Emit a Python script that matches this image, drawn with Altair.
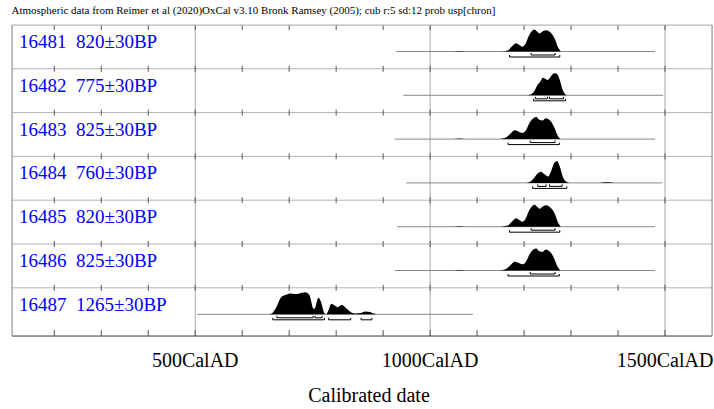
import altair as alt
import pandas as pd

# ---------------- data ----------------
ids = ["16481", "16482", "16483", "16484", "16485", "16486", "16487"]
ages = ["820±30BP", "775±30BP", "825±30BP", "760±30BP", "820±30BP", "825±30BP", "1265±30BP"]
line_start = [928, 943, 925, 949, 930, 925, 504]
line_end = [1479, 1496, 1479, 1494, 1479, 1479, 1091]

dens_years = [
    [1050, 1062, 1075, 1150, 1165, 1175, 1183, 1190, 1196, 1203, 1210, 1218, 1222, 1228, 1233, 1240, 1247, 1253, 1259, 1266, 1272, 1278],
    [1205, 1215, 1222, 1228, 1234, 1240, 1245, 1250, 1255, 1260, 1266, 1271, 1276, 1282, 1290],
    [1050, 1062, 1075, 1145, 1160, 1170, 1180, 1188, 1196, 1204, 1212, 1220, 1226, 1232, 1240, 1246, 1252, 1258, 1265, 1271, 1278],
    [1205, 1213, 1222, 1230, 1236, 1243, 1251, 1258, 1264, 1270, 1276, 1283, 1290, 1296, 1360, 1377, 1392],
    [1050, 1062, 1075, 1150, 1165, 1175, 1183, 1190, 1196, 1203, 1210, 1218, 1222, 1228, 1233, 1240, 1247, 1253, 1259, 1266, 1272, 1278],
    [1050, 1062, 1075, 1145, 1160, 1170, 1180, 1188, 1196, 1204, 1212, 1220, 1226, 1232, 1240, 1246, 1252, 1258, 1265, 1271, 1278],
    [650, 662, 672, 683, 695, 702, 712, 722, 734, 743, 752, 755, 762, 768, 775, 779, 783, 790, 797, 803, 812, 820, 830, 840, 852, 862, 872, 882, 888],
]
dens_probs = [
    [0, 2.5, 0, 0, 5, 25, 38, 30, 22, 35, 70, 95, 100, 90, 82, 92, 97, 92, 80, 55, 20, 0],
    [0, 5, 20, 45, 60, 80, 75, 70, 80, 95, 100, 95, 70, 25, 0],
    [0, 2.5, 0, 0, 6, 22, 40, 35, 28, 40, 75, 95, 100, 88, 85, 95, 90, 78, 50, 18, 0],
    [0, 5, 25, 45, 51, 40, 29, 55, 90, 100, 75, 25, 5, 0, 0, 3, 0],
    [0, 2.5, 0, 0, 5, 25, 38, 30, 22, 35, 70, 95, 100, 90, 82, 92, 97, 92, 80, 55, 20, 0],
    [0, 2.5, 0, 0, 6, 22, 40, 35, 28, 40, 75, 95, 100, 88, 85, 95, 90, 78, 50, 18, 0],
    [0, 3, 30, 78, 90, 95, 92, 95, 100, 88, 25, 28, 75, 55, 5, 0, 15, 48, 40, 32, 42, 30, 12, 4, 6, 13, 10, 2, 0],
]
ranges68 = [
    [(1215, 1266)],
    [(1224, 1250), (1254, 1284)],
    [(1213, 1266)],
    [(1229, 1247), (1254, 1281)],
    [(1215, 1266)],
    [(1213, 1266)],
    [(674, 751), (755, 770)],
]
ranges95 = [
    [(1169, 1276)],
    [(1220, 1288)],
    [(1166, 1275)],
    [(1218, 1291)],
    [(1169, 1276)],
    [(1166, 1275)],
    [(665, 775), (784, 831), (853, 876)],
]
major_years = [500, 1000, 1500]
tick_years = list(range(200, 1600, 100))
x_domain = [110, 1600]
title_text = "Atmospheric data from Reimer et al (2020)OxCal v3.10 Bronk Ramsey (2005); cub r:5 sd:12 prob usp[chron]"
x_title = "Calibrated date"

# ---------------- layout (pixel units of the y scale) ----------------
W, H = 700, 311
ROW_H = 43.8
row_tops = [i * ROW_H for i in range(7)]
boundaries = row_tops + [H]
BASE_OFF = 26.5
PEAK = 22.0

dens_rows, rule_rows, br_rows, end_rows, lab_rows = [], [], [], [], []
for i in range(7):
    base = row_tops[i] + BASE_OFF
    for yr, p in zip(dens_years[i], dens_probs[i]):
        dens_rows.append({"grp": i, "year": yr, "yv": base - p * PEAK / 100.0, "y0": base})
    rule_rows.append({"a": line_start[i], "b": line_end[i], "y": base})
    for a, b in ranges68[i]:
        br_rows.append({"a": a, "b": b, "y": base + 3.5})
        end_rows += [{"x": a, "y1": base + 1.5, "y2": base + 3.5}, {"x": b, "y1": base + 1.5, "y2": base + 3.5}]
    for a, b in ranges95[i]:
        br_rows.append({"a": a, "b": b, "y": base + 5.5})
        end_rows += [{"x": a, "y1": base + 3.5, "y2": base + 5.5}, {"x": b, "y1": base + 3.5, "y2": base + 5.5}]
    lab_rows.append({"id": ids[i], "age": ages[i], "y": row_tops[i] + 23})

tick_rows = []
for bi, bval in enumerate(boundaries):
    for t in tick_years:
        if bi == 0:
            y1, y2 = 0, 5
        elif bi == len(boundaries) - 1:
            y1, y2 = H - 6, H
        else:
            y1, y2 = bval - 3, bval + 3
        tick_rows.append({"x": t, "y1": y1, "y2": y2})

sep_rows = [{"y": b} for b in boundaries[1:-1]]

xs = alt.Scale(domain=x_domain, nice=False, zero=False)
ys = alt.Scale(domain=[0, H], reverse=True, nice=False, zero=False)

def X(f):
    return alt.X(f, scale=xs, axis=None)

def Y(f):
    return alt.Y(f, scale=ys, axis=None)

sep = alt.Chart(pd.DataFrame(sep_rows)).mark_rule(color="#b4b4b4", strokeWidth=1).encode(
    x=alt.value(0), x2=alt.value(W), y=Y("y:Q"))

grid = alt.Chart(pd.DataFrame({"x": major_years})).mark_rule(color="#a8a8a8", strokeWidth=1).encode(
    x=X("x:Q"), y=alt.value(0), y2=alt.value(H))

ticks = alt.Chart(pd.DataFrame(tick_rows)).mark_rule(color="#555555", strokeWidth=1).encode(
    x=X("x:Q"), y=Y("y1:Q"), y2="y2:Q")

frame_top = alt.Chart(pd.DataFrame({"v": [0]})).mark_rule(color="#b4b4b4").encode(
    x=alt.value(0), x2=alt.value(W), y=Y("v:Q"))
frame_bot = alt.Chart(pd.DataFrame({"v": [H]})).mark_rule(color="#444444").encode(
    x=alt.value(0), x2=alt.value(W), y=Y("v:Q"))
frame_lr = alt.Chart(pd.DataFrame({"x": x_domain})).mark_rule(color="#8c8c8c").encode(
    x=X("x:Q"), y=alt.value(0), y2=alt.value(H))

baseline = alt.Chart(pd.DataFrame(rule_rows)).mark_rule(color="#8a8a8a", strokeWidth=1).encode(
    x=X("a:Q"), x2="b:Q", y=Y("y:Q"))

area = alt.Chart(pd.DataFrame(dens_rows)).mark_area(color="black", interpolate="monotone", opacity=1).encode(
    x=X("year:Q"), y=alt.Y("yv:Q", scale=ys, axis=None, stack=None), y2="y0:Q",
    detail="grp:N")

br = alt.Chart(pd.DataFrame(br_rows)).mark_rule(color="black", strokeWidth=1).encode(
    x=X("a:Q"), x2="b:Q", y=Y("y:Q"))
br_end = alt.Chart(pd.DataFrame(end_rows)).mark_rule(color="black", strokeWidth=1).encode(
    x=X("x:Q"), y=Y("y1:Q"), y2="y2:Q")

lab_df = pd.DataFrame(lab_rows)
lab_id = alt.Chart(lab_df).mark_text(font="Liberation Serif", fontSize=19, color="#0000ff", align="left",
                                      baseline="alphabetic").encode(
    x=alt.value(7), y=Y("y:Q"), text="id:N")
lab_age = alt.Chart(lab_df).mark_text(font="Liberation Serif", fontSize=19, color="#0000ff", align="left",
                                       baseline="alphabetic").encode(
    x=alt.value(64), y=Y("y:Q"), text="age:N")

axis_lab = alt.Chart(pd.DataFrame({"x": major_years, "t": [f"{v}CalAD" for v in major_years]})).mark_text(
    font="Liberation Serif", fontSize=20, color="black", align="center", baseline="middle").encode(
    x=X("x:Q"), y=alt.value(H + 25), text="t:N")
axis_title = alt.Chart(pd.DataFrame({"t": [x_title]})).mark_text(
    font="Liberation Serif", fontSize=20, color="black", align="center", baseline="middle").encode(
    x=alt.value(357), y=alt.value(H + 60), text="t:N")

chart = alt.layer(grid, sep, ticks, frame_top, frame_bot, frame_lr, baseline, area, br, br_end,
                  lab_id, lab_age, axis_lab, axis_title).properties(
    width=W, height=H,
    title=alt.TitleParams(title_text, anchor="start", font="Liberation Serif", fontSize=11, fontWeight="normal",
                          color="black", offset=9),
    autosize=alt.AutoSizeParams(type="none"),
    padding={"left": 12, "top": 25, "right": 2, "bottom": 73},
).configure_view(stroke=None).configure(background="white")

chart.save("out.html", embed_options={"renderer": "svg", "actions": False})
